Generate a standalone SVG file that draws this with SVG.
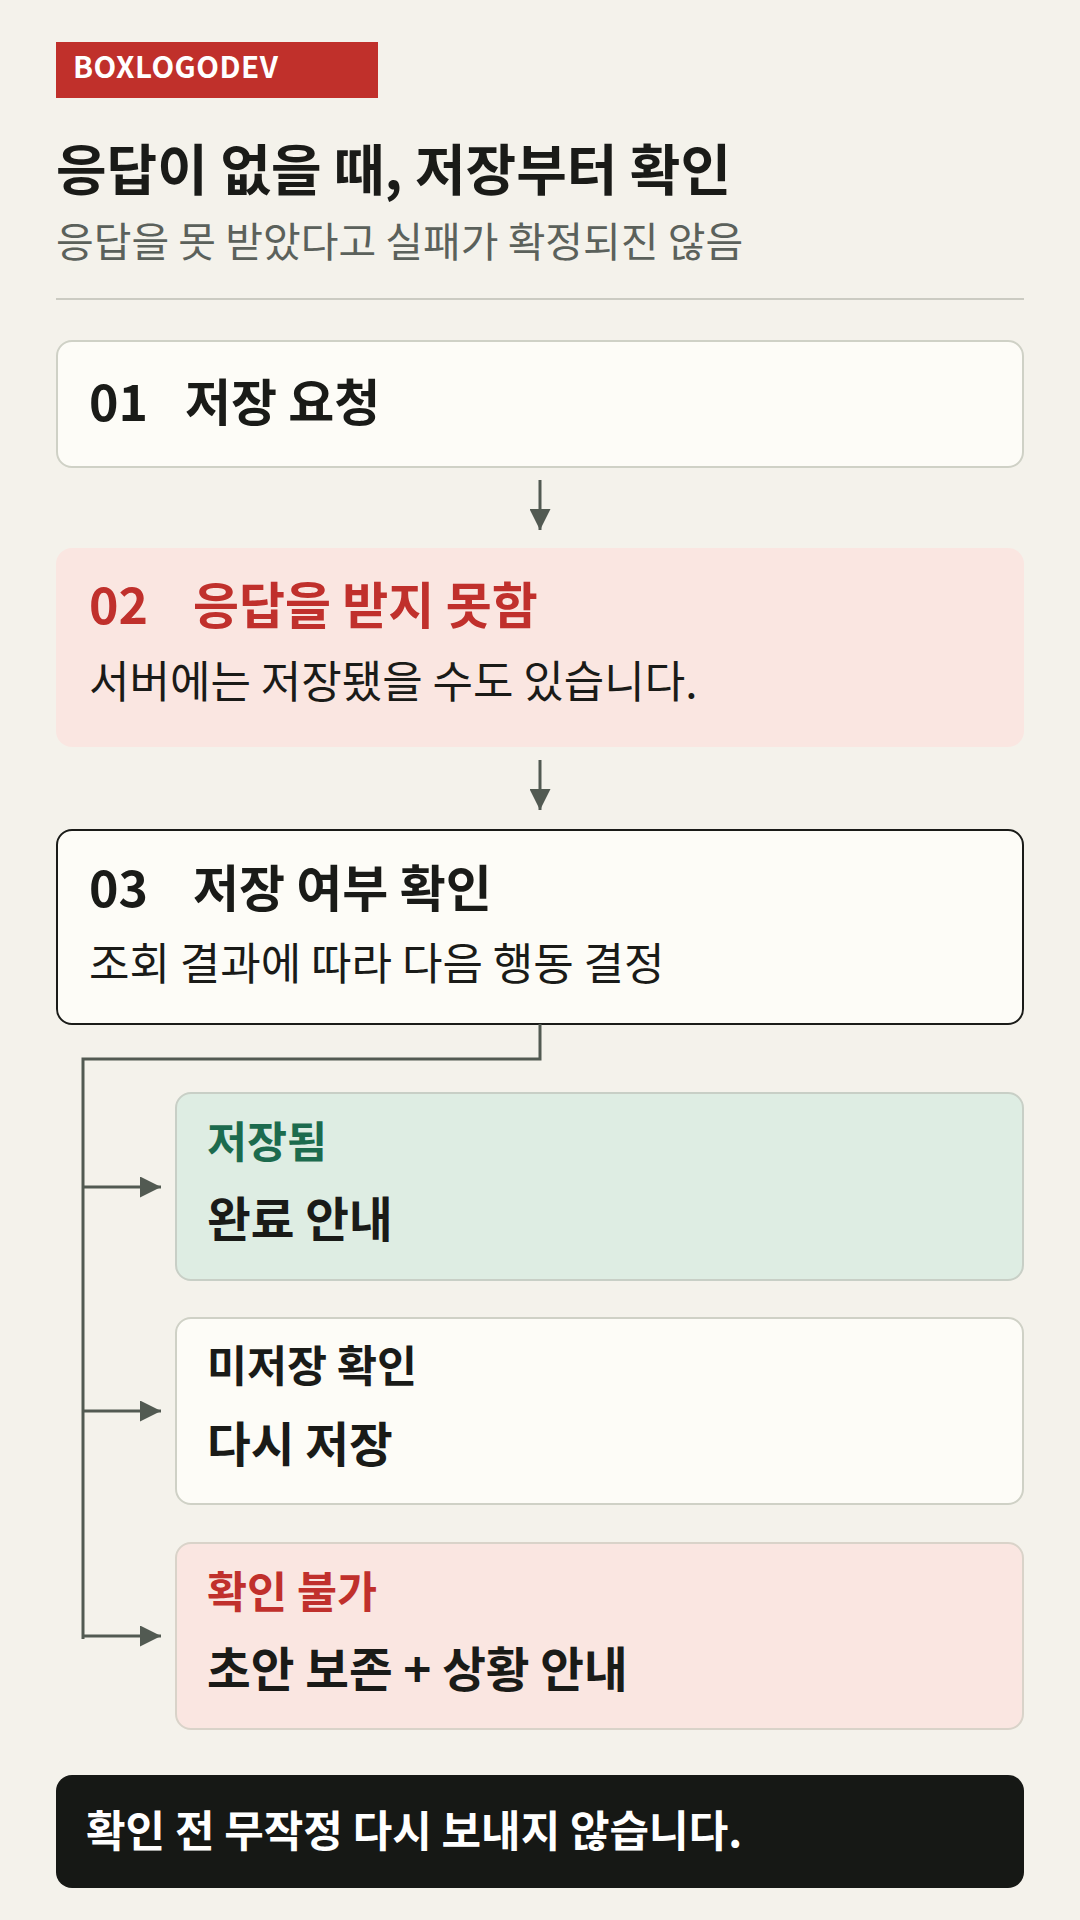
<svg xmlns="http://www.w3.org/2000/svg" width="1080" height="1920" viewBox="0 0 1080 1920">
<defs>
<style>
.t{font-family:"Noto Sans CJK KR","Noto Sans",sans-serif}
.b{font-weight:700}
.h{font-size:50px;font-weight:700;fill:#1a1b18}
.s{font-size:44px;font-weight:400;fill:#1a1b18}
.sh{font-size:43.5px;font-weight:700}
.sm{font-size:47.5px;font-weight:700;fill:#1a1b18}
.card{fill:#fdfcf7;stroke:#cfd1c6;stroke-width:2}
.pink{fill:#fae6e1}
.con{fill:none;stroke:#525a52;stroke-width:3}
</style>
<marker id="ah" viewBox="0 0 10 10" refX="10" refY="5" markerWidth="7" markerHeight="7" markerUnits="strokeWidth" orient="auto">
<path d="M0,0 L10,5 L0,10 Z" fill="#525a52"/>
</marker>
</defs>
<rect width="1080" height="1920" fill="#f4f2eb"/>

<g id="header">
<rect x="56" y="42" width="322" height="56" fill="#c0302b"/>
<text class="t b" x="73" y="78" font-size="29.5" fill="#ffffff" letter-spacing="0.5">BOXLOGODEV</text>
<text class="t b" x="56" y="190" font-size="55" fill="#1a1b18">응답이 없을 때, 저장부터 확인</text>
<text class="t" x="56" y="257" font-size="41" fill="#5b615b">응답을 못 받았다고 실패가 확정되진 않음</text>
<line x1="56" y1="299" x2="1024" y2="299" stroke="#cbcbc2" stroke-width="2"/>
</g>

<g id="n01">
<rect class="card" x="57" y="341" width="966" height="126" rx="15"/>
<text class="t h" x="89" y="421">01</text>
<text class="t h" x="185" y="421">저장 요청</text>
</g>

<g id="n02">
<rect class="pink" x="56" y="548" width="968" height="199" rx="16"/>
<text class="t h" x="89" y="624" style="fill:#c0302c">02</text>
<text class="t h" x="193" y="624" style="fill:#c0302c">응답을 받지 못함</text>
<text class="t s" x="89" y="698">서버에는 저장됐을 수도 있습니다.</text>
</g>

<g id="n03">
<rect x="57" y="830" width="966" height="194" rx="15" fill="#fdfcf7" stroke="#1a1b18" stroke-width="2"/>
<text class="t h" x="89" y="907">03</text>
<text class="t h" x="193" y="907">저장 여부 확인</text>
<text class="t s" x="89" y="980">조회 결과에 따라 다음 행동 결정</text>
</g>

<g id="nA">
<rect x="176" y="1093" width="847" height="187" rx="15" fill="#deede3" stroke="#c8cfc6" stroke-width="2"/>
<text class="t sh" x="207" y="1158" fill="#1c6b4e">저장됨</text>
<text class="t sm" x="207" y="1237">완료 안내</text>
</g>

<g id="nB">
<rect class="card" x="176" y="1318" width="847" height="186" rx="15"/>
<text class="t sh" x="207" y="1382" fill="#1a1b18">미저장 확인</text>
<text class="t sm" x="207" y="1462">다시 저장</text>
</g>

<g id="nC">
<rect x="176" y="1543" width="847" height="186" rx="15" fill="#fae6e1" stroke="#d9d3c9" stroke-width="2"/>
<text class="t sh" x="207" y="1608" fill="#c0302c">확인 불가</text>
<text class="t sm" x="207" y="1687">초안 보존 + 상황 안내</text>
</g>

<g id="footer">
<rect x="56" y="1775" width="968" height="113" rx="16" fill="#161815"/>
<text class="t b" x="86" y="1847" font-size="43" fill="#ffffff">확인 전 무작정 다시 보내지 않습니다.</text>
</g>

<g id="connectors">
<line class="con" x1="540" y1="480" x2="540" y2="530" stroke-width="2.7" marker-end="url(#ah)"/>
<line class="con" x1="540" y1="760" x2="540" y2="810" stroke-width="2.7" marker-end="url(#ah)"/>
<polyline class="con" points="540,1024 540,1059 83,1059 83,1639"/>
<line class="con" x1="83" y1="1187" x2="161" y2="1187" marker-end="url(#ah)"/>
<line class="con" x1="83" y1="1411" x2="161" y2="1411" marker-end="url(#ah)"/>
<line class="con" x1="83" y1="1636" x2="161" y2="1636" marker-end="url(#ah)"/>
</g>
</svg>
